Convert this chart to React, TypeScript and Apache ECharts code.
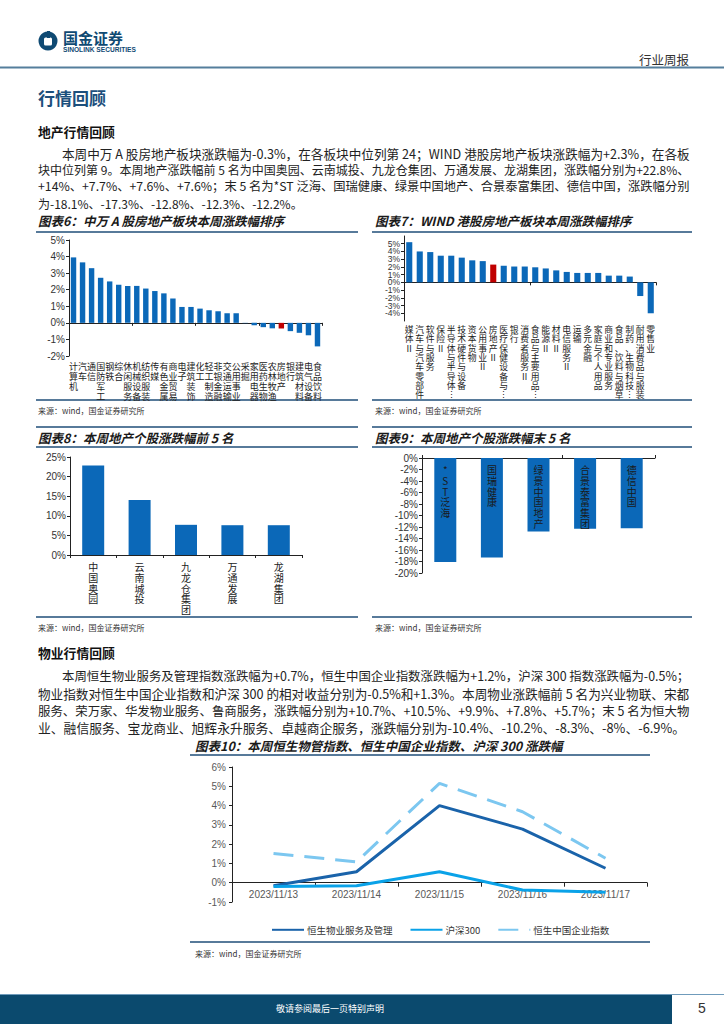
import React, { useEffect, useRef } from "react";
import * as echarts from "echarts";

// ---------- DATA ----------
const cats6 = ["计算机", "汽车", "通信", "国防军工", "钢铁", "综合", "休闲服务", "机械设备", "纺织服装", "传媒", "有色金属", "商业贸易", "电子", "建筑装饰", "化工", "轻工制造", "非银金融", "交通运输", "公用事业", "采掘", "家用电器", "医药生物", "农林牧渔", "房地产", "银行", "建筑材料", "电气设备", "食品饮料"];
const vals6 = [3.95, 3.65, 3.3, 2.72, 2.5, 2.3, 2.23, 2.23, 2.07, 1.92, 1.78, 1.47, 0.96, 0.96, 0.86, 0.76, 0.7, 0.58, 0.58, -0.02, -0.15, -0.26, -0.33, -0.34, -0.5, -0.6, -0.75, -1.42];
const highlight6 = "房地产";

const cats7 = ["媒体Ⅱ", "汽车与汽车零部件", "软件与服务", "保险Ⅱ", "半导体与半导体⋮", "技术硬件与设备", "资本货物", "公用事业Ⅱ", "房地产Ⅱ", "医疗保健设备与⋮", "银行", "消费者服务Ⅱ", "食品与主要用品⋮", "能源Ⅱ", "材料Ⅱ", "电信服务Ⅱ", "运输", "多元金融", "家庭与个人用品", "商业和专业服务", "食品、饮料与烟草", "制药、生物科技⋮", "耐用消费品与服装", "零售业"];
const vals7 = [5.2, 4.0, 3.92, 3.45, 3.45, 3.2, 2.85, 2.75, 2.3, 2.15, 2.05, 2.05, 1.95, 1.8, 1.55, 1.35, 1.22, 1.22, 1.22, 0.87, 0.87, 0.75, -1.77, -4.0];
const highlight7 = "房地产Ⅱ";

const cats8 = ["中国奥园", "云南城投", "九龙仓集团", "万通发展", "龙湖集团"];
const vals8 = [22.8, 14, 7.7, 7.6, 7.6];

const cats9 = ["*ST泛海", "国瑞健康", "绿景中国地产", "合景泰富集团", "德信中国"];
const vals9 = [-18.1, -17.3, -12.8, -12.3, -12.2];

const dates10 = ["2023/11/13", "2023/11/14", "2023/11/15", "2023/11/16", "2023/11/17"];
const hsProperty = [-0.16, 0.57, 4.0, 2.78, 0.75];
const hs300 = [-0.2, -0.16, 0.57, -0.38, -0.5];
const hscei = [1.52, 1.08, 5.15, 3.68, 1.27];
const lineNames = ["恒生物业服务及管理", "沪深300", "恒生中国企业指数"];

const para1 = [
  "本周中万 A 股房地产板块涨跌幅为-0.3%，在各板块中位列第 24；WIND 港股房地产板块涨跌幅为+2.3%，在各板",
  "块中位列第 9。本周地产涨跌幅前 5 名为中国奥园、云南城投、九龙仓集团、万通发展、龙湖集团，涨跌幅分别为+22.8%、",
  "+14%、+7.7%、+7.6%、+7.6%；末 5 名为*ST 泛海、国瑞健康、绿景中国地产、合景泰富集团、德信中国，涨跌幅分别",
  "为-18.1%、-17.3%、-12.8%、-12.3%、-12.2%。",
];
const para2 = [
  "本周恒生物业服务及管理指数涨跌幅为+0.7%，恒生中国企业指数涨跌幅为+1.2%，沪深 300 指数涨跌幅为-0.5%；",
  "物业指数对恒生中国企业指数和沪深 300 的相对收益分别为-0.5%和+1.3%。本周物业涨跌幅前 5 名为兴业物联、宋都",
  "服务、荣万家、华发物业服务、鲁商服务，涨跌幅分别为+10.7%、+10.5%、+9.9%、+7.8%、+5.7%；末 5 名为恒大物",
  "业、融信服务、宝龙商业、旭辉永升服务、卓越商企服务，涨跌幅分别为-10.4%、-10.2%、-8.3%、-8%、-6.9%。",
];

// ---------- STYLE ----------
const F_CJK = '"Noto Sans CJK SC", sans-serif';
const F_AX = '"Liberation Sans", Arial, "Noto Sans CJK SC", sans-serif';
const BLUE = "#0b68b8";
const RED = "#c00000";
const NAVY = "#0f4a73";
const RULE = "#1f4e79";

const vert = (s: string) => s.split("").join("\n");

function txt(x: number, y: number, text: string, o: any = {}) {
  return {
    type: "text",
    x,
    y,
    silent: true,
    style: {
      text,
      fill: o.fill || "#222",
      fontSize: o.fontSize || 12,
      fontFamily: o.fontFamily || F_CJK,
      fontWeight: o.fontWeight || "normal",
      fontStyle: o.fontStyle || "normal",
      align: o.align || "left",
      verticalAlign: "middle",
    },
  };
}
function hline(x1: number, x2: number, y: number, stroke = RULE, w = 1.5) {
  return { type: "line", silent: true, shape: { x1, y1: y, x2, y2: y }, style: { stroke, lineWidth: w } };
}

function valueAxis(gridIndex: number, min: number, max: number, interval: number, fs = 10) {
  return {
    type: "value",
    gridIndex,
    min,
    max,
    interval,
    splitLine: { show: false },
    axisLine: { show: true, lineStyle: { color: "#222", width: 1 } },
    axisTick: { show: true, length: 3, lineStyle: { color: "#222" } },
    axisLabel: { formatter: "{value}%", fontSize: fs, color: "#333", fontFamily: F_AX, margin: 4 },
  };
}

function labelAxis(gridIndex: number, data: string[], margin: number, fs: number, lh: number, offset = 0, vertical = true, color = "#222", ff = F_CJK) {
  return {
    type: "category",
    gridIndex,
    data,
    position: "bottom",
    offset,
    axisLine: { show: false, onZero: false },
    axisTick: { show: false },
    axisLabel: {
      interval: 0,
      margin,
      fontSize: fs,
      lineHeight: lh,
      color,
      fontFamily: ff,
      verticalAlign: "top",
      formatter: vertical ? (v: string) => vert(v) : undefined,
    },
  };
}
function zeroAxis(gridIndex: number, data: string[], inside = true, len = 3) {
  return {
    type: "category",
    gridIndex,
    data,
    axisLine: { show: true, onZero: true, lineStyle: { color: "#222", width: 1 } },
    axisTick: { show: true, inside, length: len, lineStyle: { color: "#222" } },
    axisLabel: { show: false },
  };
}

// fit a paragraph line to a target width through its font size
function fitSize(line: string, target: number | null, base = 12): number {
  if (!target) return base;
  try {
    const c = document.createElement("canvas").getContext("2d");
    if (!c) return base;
    c.font = `${base}px "Noto Sans CJK SC"`;
    const w = c.measureText(line).width;
    if (!w) return base;
    const s = (base * target) / w;
    return Math.max(11.2, Math.min(12.8, s));
  } catch (e) {
    return base;
  }
}

export default function App() {
  const ref = useRef<HTMLDivElement>(null);
  useEffect(() => {
    if (!ref.current) return;
    const chart = echarts.init(ref.current, null, { renderer: "svg", width: 724, height: 1024 });

    const graphics: any[] = [];
    // header
    graphics.push({ type: "circle", silent: true, shape: { cx: 48, cy: 41, r: 9.5 }, style: { fill: NAVY } });
    graphics.push({ type: "rect", silent: true, shape: { x: 44, y: 37.5, width: 8, height: 8, r: 1.5 }, style: { fill: "#fff" } });
    graphics.push({ type: "rect", silent: true, shape: { x: 47, y: 31, width: 3, height: 7 }, style: { fill: NAVY } });
    graphics.push(txt(63, 37.5, "国金证券", { fontSize: 15, fontWeight: "bold", fill: NAVY }));
    graphics.push(txt(63, 49, "SINOLINK SECURITIES", { fontSize: 6.6, fontWeight: "bold", fill: NAVY, fontFamily: F_AX }));
    graphics.push(txt(689, 59, "行业周报", { fontSize: 12.5, align: "right", fill: "#333" }));
    graphics.push(hline(0, 724, 67.5, "#557e9c", 2));

    graphics.push(txt(38, 97, "行情回顾", { fontSize: 17, fontWeight: "bold", fill: "#1c4f7c" }));
    graphics.push(txt(38, 131, "地产行情回顾", { fontSize: 12.8, fontWeight: "bold", fill: "#111" }));
    const t1 = [628, 652, 652, null];
    para1.forEach((l, i) => graphics.push(txt(i === 0 ? 62 : 38, 153 + i * 16.7, l, { fontSize: fitSize(l, t1[i]) })));

    // chart 6 / 7 frames
    const titleOpt = { fontSize: 12.5, fontWeight: "bold", fontStyle: "italic", fill: "#1a1a1a" };
    graphics.push(txt(38, 220, "图表6：中万 A 股房地产板块本周涨跌幅排序", titleOpt));
    graphics.push(txt(375, 220, "图表7：WIND 港股房地产板块本周涨跌幅排序", titleOpt));
    graphics.push(hline(36, 358, 232));
    graphics.push(hline(372, 692, 232));
    graphics.push(hline(36, 358, 400));
    graphics.push(hline(372, 692, 400));
    const srcOpt = { fontSize: 8, fill: "#333" };
    graphics.push(txt(38, 410, "来源：wind，国金证券研究所", srcOpt));
    graphics.push(txt(375, 410, "来源：wind，国金证券研究所", srcOpt));

    // chart 8 / 9 frames
    graphics.push(hline(36, 358, 427));
    graphics.push(hline(372, 692, 427));
    graphics.push(txt(38, 437, "图表8：本周地产个股涨跌幅前 5 名", titleOpt));
    graphics.push(txt(375, 437, "图表9：本周地产个股涨跌幅末 5 名", titleOpt));
    graphics.push(hline(36, 358, 447));
    graphics.push(hline(372, 692, 447));
    graphics.push(hline(36, 358, 617));
    graphics.push(hline(372, 692, 617));
    graphics.push(txt(38, 627, "来源：wind，国金证券研究所", srcOpt));
    graphics.push(txt(375, 627, "来源：wind，国金证券研究所", srcOpt));

    graphics.push(txt(38, 652, "物业行情回顾", { fontSize: 12.8, fontWeight: "bold", fill: "#111" }));
    const t2 = [628, 652, 652, 652];
    para2.forEach((l, i) => graphics.push(txt(i === 0 ? 62 : 38, 676 + i * 17.3, l, { fontSize: fitSize(l, t2[i]) })));

    // chart 10 frame
    graphics.push(txt(195, 745, "图表10：本周恒生物管指数、恒生中国企业指数、沪深 300 涨跌幅", titleOpt));
    graphics.push(hline(190, 650, 755));
    graphics.push(hline(190, 650, 942));
    graphics.push(txt(195, 953, "来源：wind，国金证券研究所", srcOpt));

    // footer
    graphics.push({ type: "rect", silent: true, shape: { x: 0, y: 995, width: 672, height: 29 }, style: { fill: "#0b4a6e" } });
    graphics.push(hline(0, 724, 994.5, "#6f9bbb", 1));
    graphics.push(txt(330, 1008, "敬请参阅最后一页特别声明", { fontSize: 9, fill: "#ffffff", align: "center" }));
    graphics.push(txt(702, 1008, "5", { fontSize: 14, fill: "#333", align: "center", fontFamily: F_AX }));

    const barData = (cats: string[], vals: number[], hi?: string) =>
      vals.map((v, i) => ({ value: v, itemStyle: { color: cats[i] === hi ? RED : BLUE } }));

    const g10h = 135;
    const option: any = {
      animation: false,
      backgroundColor: "#ffffff",
      textStyle: { fontFamily: F_AX },
      grid: [
        { left: 69, top: 240, width: 253, height: 116, outerBoundsMode: "none" },
        { left: 404, top: 236, width: 252, height: 85, outerBoundsMode: "none" },
        { left: 70, top: 457, width: 232, height: 98, outerBoundsMode: "none" },
        { left: 422, top: 458, width: 233, height: 115, outerBoundsMode: "none" },
        { left: 232, top: 767, width: 415, height: g10h, outerBoundsMode: "none" },
      ],
      xAxis: [
        labelAxis(0, cats6, 5, 9, 10),
        zeroAxis(0, cats6),
        labelAxis(1, cats7, 4, 8.8, 9.3),
        zeroAxis(1, cats7),
        {
          type: "category",
          gridIndex: 2,
          data: cats8,
          axisLine: { show: true, lineStyle: { color: "#222" } },
          axisTick: { show: true, length: 3, lineStyle: { color: "#222" } },
          axisLabel: { interval: 0, margin: 6, fontSize: 10, lineHeight: 10.8, color: "#222", fontFamily: F_CJK, formatter: (v: string) => vert(v) },
        },
        {
          type: "category",
          gridIndex: 3,
          data: cats9,
          position: "top",
          axisLine: { show: true, onZero: true, lineStyle: { color: "#222" } },
          axisTick: { show: true, length: 3, lineStyle: { color: "#222" } },
          axisLabel: { show: false },
        },
        // chart 10: zero line + separate label axis lifted to the zero line
        zeroAxis(4, dates10, false, 4),
        labelAxis(4, dates10, 6, 10, 12, -(g10h / 7), false, "#595959", F_AX),
      ],
      yAxis: [
        valueAxis(0, -2, 5, 1),
        valueAxis(1, -5, 6, 1, 8.5),
        valueAxis(2, 0, 25, 5),
        valueAxis(3, -20, 0, 2),
        { ...valueAxis(4, -1, 6, 1), axisLabel: { formatter: "{value}%", fontSize: 10, color: "#595959", fontFamily: F_AX, margin: 6 } },
      ],
      legend: {
        left: 266,
        top: 920,
        itemWidth: 32,
        itemHeight: 12,
        itemGap: 17,
        itemStyle: { opacity: 0 },
        textStyle: { fontSize: 9.5, color: "#333", fontFamily: F_CJK, padding: [0, 0, 0, -2] },
        data: lineNames,
      },
      series: [
        { type: "bar", xAxisIndex: 0, yAxisIndex: 0, barWidth: "60%", data: barData(cats6, vals6, highlight6) },
        { type: "bar", xAxisIndex: 2, yAxisIndex: 1, barWidth: "58%", data: barData(cats7, vals7, highlight7) },
        { type: "bar", xAxisIndex: 4, yAxisIndex: 2, barWidth: 22, data: barData(cats8, vals8) },
        {
          type: "bar",
          xAxisIndex: 5,
          yAxisIndex: 3,
          barWidth: 22,
          data: barData(cats9, vals9),
          label: {
            show: true,
            position: "insideTop",
            distance: 6,
            fontSize: 10,
            lineHeight: 10.8,
            color: "#1a1a1a",
            fontFamily: F_CJK,
            formatter: (p: any) => vert(p.name),
          },
        },
        {
          name: lineNames[0], type: "line", xAxisIndex: 6, yAxisIndex: 4, data: hsProperty,
          symbol: "none", lineStyle: { color: "#1a63aa", width: 3 }, itemStyle: { color: "#1a63aa" },
        },
        {
          name: lineNames[1], type: "line", xAxisIndex: 6, yAxisIndex: 4, data: hs300,
          symbol: "none", lineStyle: { color: "#0aa2e8", width: 3 }, itemStyle: { color: "#0aa2e8" },
        },
        {
          name: lineNames[2], type: "line", xAxisIndex: 6, yAxisIndex: 4, data: hscei,
          symbol: "none", lineStyle: { color: "#7cc7f0", width: 3, type: [20, 11] }, itemStyle: { color: "#7cc7f0" },
        },
      ],
      graphic: graphics,
    };
    chart.setOption(option);
    return () => chart.dispose();
  }, []);

  return (
    <div
      ref={ref}
      style={{ position: "absolute", left: 0, top: 0, width: 724, height: 1024, background: "#fff" }}
    />
  );
}
